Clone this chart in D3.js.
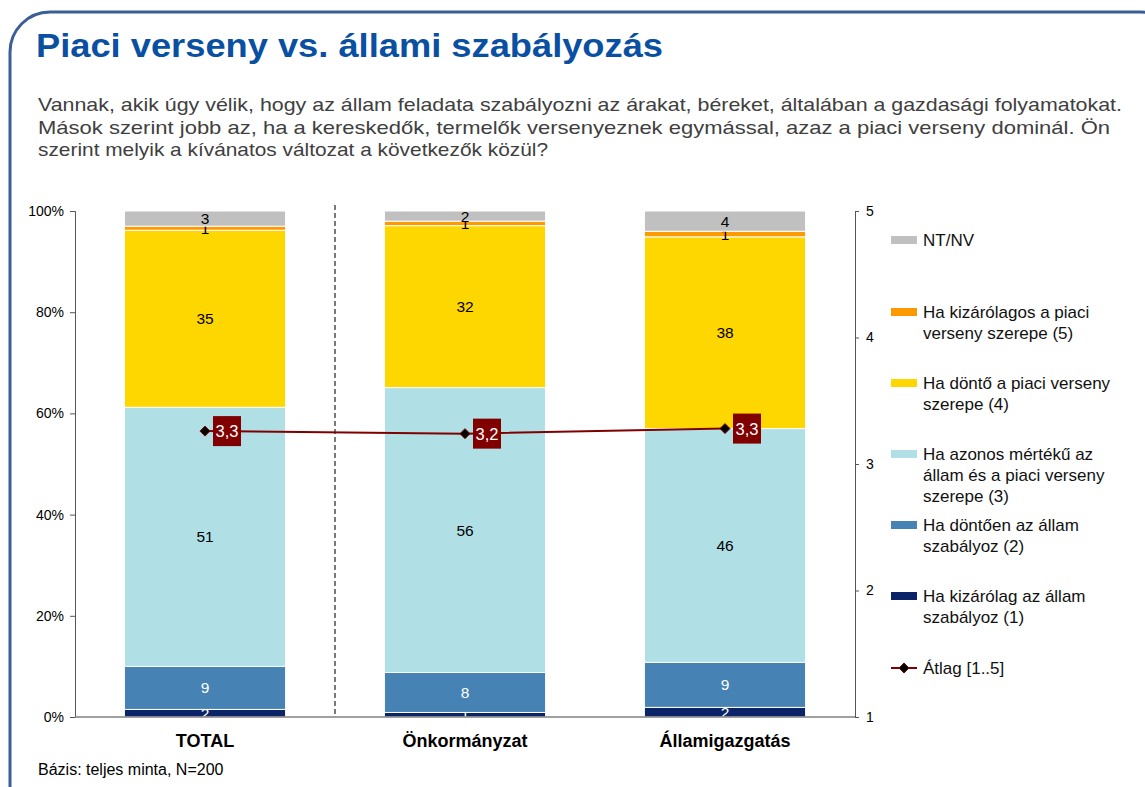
<!DOCTYPE html>
<html>
<head>
<meta charset="utf-8">
<script src="https://cdn.jsdelivr.net/npm/d3@7"></script>
<style>
  body { margin: 0; background: #fff; }
  text { font-family: "Liberation Sans", Arial, sans-serif; }
</style>
</head>
<body>
<div id="my_dataviz"></div>
<script>
// categories + series (percent shares, bottom to top of the stack)
var categories = ["TOTAL", "Önkormányzat", "Államigazgatás"];
var kizarolagAllam = [1.5, 0.9, 1.9];
var dontoenAllam = [8.5, 7.9, 8.9];
var azonos = [51.2, 56.3, 46.2];
var dontoPiaci = [35.0, 32.0, 37.9];
var kizarolagosPiaci = [0.8, 0.9, 1.1];
var ntnv = [3.0, 2.0, 4.0];
// mean on 1..5 scale
var atlag = [3.26, 3.24, 3.28];

var pctTicks = [0, 20, 40, 60, 80, 100];
var scaleTicks = [1, 2, 3, 4, 5];

var keys = ["k1", "k2", "k3", "k4", "k5", "nt"];
var seriesArrays = [kizarolagAllam, dontoenAllam, azonos, dontoPiaci, kizarolagosPiaci, ntnv];
var colors = ["#0b2468", "#4682b4", "#b0e0e6", "#ffd700", "#ff9900", "#c0c0c0"];
var labelColors = ["#fff", "#fff", "#000", "#000", "#000", "#000"];

// legend, top to bottom
var legendItems = [
  {key: "nt", lines: ["NT/NV"], y: 240},
  {key: "k5", lines: ["Ha kizárólagos a piaci", "verseny szerepe (5)"], y: 312},
  {key: "k4", lines: ["Ha döntő a piaci verseny", "szerepe (4)"], y: 383},
  {key: "k3", lines: ["Ha azonos mértékű az", "állam és a piaci verseny", "szerepe (3)"], y: 454},
  {key: "k2", lines: ["Ha döntően az állam", "szabályoz (2)"], y: 525},
  {key: "k1", lines: ["Ha kizárólag az állam", "szabályoz (1)"], y: 596}
];

var subtitle = [
  "Vannak, akik úgy vélik, hogy az állam feladata szabályozni az árakat, béreket, általában a gazdasági folyamatokat.",
  "Mások szerint jobb az, ha a  kereskedők, termelők versenyeznek egymással, azaz a  piaci verseny dominál. Ön",
  "szerint melyik a kívánatos változat a következők közül?"
];
var subtitleLen = [1084, 1072, 510];

// build table for d3.stack
var data = categories.map(function(c, i) {
  var row = {cat: c};
  keys.forEach(function(k, j) { row[k] = seriesArrays[j][i]; });
  return row;
});

var W = 1145, H = 787;
var svg = d3.select("#my_dataviz").append("svg")
  .attr("width", W).attr("height", H);

// rounded frame
svg.append("rect")
  .attr("x", 10).attr("y", 12).attr("width", 1170).attr("height", 820)
  .attr("rx", 40).attr("ry", 40)
  .attr("fill", "none").attr("stroke", "#3c5e98").attr("stroke-width", 3);

svg.append("text")
  .attr("x", 36).attr("y", 57)
  .attr("font-size", 34).attr("font-weight", "bold").attr("fill", "#0a50a2")
  .attr("textLength", 627).attr("lengthAdjust", "spacingAndGlyphs")
  .text("Piaci verseny vs. állami szabályozás");

subtitle.forEach(function(s, i) {
  svg.append("text")
    .attr("x", 38).attr("y", 111 + i * 22.5)
    .attr("font-size", 18.5).attr("fill", "#404040")
    .attr("textLength", subtitleLen[i]).attr("lengthAdjust", "spacingAndGlyphs")
    .text(s);
});

// scales
var x = d3.scaleBand().domain(categories).range([75, 855])
  .paddingInner(0.38).paddingOuter(0.19);
var y = d3.scaleLinear().domain([0, 100]).range([717, 211]);
var y2 = d3.scaleLinear().domain([1, 5]).range([717, 211]);

// left axis
var gl = svg.append("g").attr("transform", "translate(75,0)")
  .call(d3.axisLeft(y).tickValues(pctTicks).tickSize(5).tickPadding(6)
    .tickFormat(function(d) { return d + "%"; }));
gl.select(".domain").attr("stroke", "#555");
gl.selectAll(".tick line").attr("stroke", "#555");
gl.selectAll("text").attr("font-size", 14).attr("fill", "#000")
  .style("font-family", "'Liberation Sans', Arial, sans-serif");

// right axis
var gr = svg.append("g").attr("transform", "translate(855,0)")
  .call(d3.axisRight(y2).tickValues(scaleTicks).tickSize(4).tickPadding(7)
    .tickFormat(d3.format("d")));
gr.select(".domain").attr("stroke", "#555");
gr.selectAll(".tick line").attr("stroke", "#555");
gr.selectAll("text").attr("font-size", 14).attr("fill", "#000")
  .style("font-family", "'Liberation Sans', Arial, sans-serif");

// dashed separator after TOTAL
svg.append("line")
  .attr("x1", x.step() + 75).attr("x2", x.step() + 75)
  .attr("y1", 205).attr("y2", y(0))
  .attr("stroke", "#222").attr("stroke-width", 1.2).attr("stroke-dasharray", "5,3");

// stacked bars
var stackedData = d3.stack().keys(keys)(data);

var layers = svg.selectAll("g.layer")
  .data(stackedData)
  .enter().append("g").attr("class", "layer");

layers.selectAll("rect")
  .data(function(d) { return d; })
  .enter().append("rect")
  .attr("x", function(d) { return x(d.data.cat); })
  .attr("width", x.bandwidth())
  .attr("y", function(d) { return y(d[1]); })
  .attr("height", function(d) { return y(d[0]) - y(d[1]); })
  .attr("fill", function(d, i, n) { return colors[keys.indexOf(d3.select(n[i].parentNode).datum().key)]; })
  .attr("stroke", "#fff").attr("stroke-width", 1);

layers.each(function(layer, li) {
  d3.select(this).selectAll("text")
    .data(layer)
    .enter().append("text")
    .attr("x", function(d) { return x(d.data.cat) + x.bandwidth() / 2; })
    .attr("y", function(d) { return (y(d[0]) + y(d[1])) / 2; })
    .attr("dy", "0.36em")
    .attr("text-anchor", "middle")
    .attr("font-size", 15.5)
    .attr("fill", labelColors[li])
    .text(function(d) { return Math.round(d[1] - d[0]); });
});

// baseline
svg.append("line")
  .attr("x1", 75).attr("x2", 855).attr("y1", y(0)).attr("y2", y(0))
  .attr("stroke", "#808080").attr("stroke-width", 1.5);

// category labels
svg.selectAll("text.cat")
  .data(categories)
  .enter().append("text")
  .attr("class", "cat")
  .attr("x", function(d) { return x(d) + x.bandwidth() / 2; })
  .attr("y", 747)
  .attr("text-anchor", "middle")
  .attr("font-size", 18).attr("font-weight", "bold")
  .text(function(d) { return d; });

// mean line
var cx = function(i) { return x(categories[i]) + x.bandwidth() / 2; };
var line = d3.line()
  .x(function(d, i) { return cx(i); })
  .y(function(d) { return y2(d); });

svg.append("path")
  .datum(atlag)
  .attr("d", line)
  .attr("fill", "none").attr("stroke", "#800000").attr("stroke-width", 2);

// flat diamond marker
var diamond = "M-5,0L0,-5L5,0L0,5Z";
svg.selectAll("path.pt")
  .data(atlag)
  .enter().append("path")
  .attr("class", "pt")
  .attr("d", diamond)
  .attr("transform", function(d, i) { return "translate(" + cx(i) + "," + y2(d) + ")"; })
  .attr("fill", "#000").attr("stroke", "#800000").attr("stroke-width", 1);

// value boxes
var box = svg.selectAll("g.box")
  .data(atlag)
  .enter().append("g")
  .attr("class", "box")
  .attr("transform", function(d, i) { return "translate(" + (cx(i) + 8) + "," + y2(d) + ")"; });
box.append("rect")
  .attr("x", 0).attr("y", -15).attr("width", 28).attr("height", 30)
  .attr("fill", "#800000");
box.append("text")
  .attr("x", 14).attr("y", 0).attr("dy", "0.36em")
  .attr("text-anchor", "middle").attr("font-size", 16.5).attr("fill", "#fff")
  .text(function(d) { return d.toFixed(1).replace(".", ","); });

// legend
var lg = svg.append("g");
legendItems.forEach(function(item) {
  lg.append("rect")
    .attr("x", 891).attr("y", item.y - 4).attr("width", 26).attr("height", 8)
    .attr("fill", colors[keys.indexOf(item.key)]);
  item.lines.forEach(function(t, j) {
    lg.append("text")
      .attr("x", 923).attr("y", item.y + j * 21).attr("dy", "0.36em")
      .attr("font-size", 17).attr("fill", "#111")
      .text(t);
  });
});
lg.append("line")
  .attr("x1", 891).attr("x2", 917).attr("y1", 668).attr("y2", 668)
  .attr("stroke", "#800000").attr("stroke-width", 2);
lg.append("path")
  .attr("d", diamond)
  .attr("transform", "translate(904,668)")
  .attr("fill", "#000").attr("stroke", "#800000");
lg.append("text")
  .attr("x", 923).attr("y", 668).attr("dy", "0.36em")
  .attr("font-size", 17).attr("fill", "#111")
  .text("Átlag [1..5]");

svg.append("text")
  .attr("x", 38).attr("y", 775)
  .attr("font-size", 16)
  .text("Bázis: teljes minta, N=200");
</script>
</body>
</html>
